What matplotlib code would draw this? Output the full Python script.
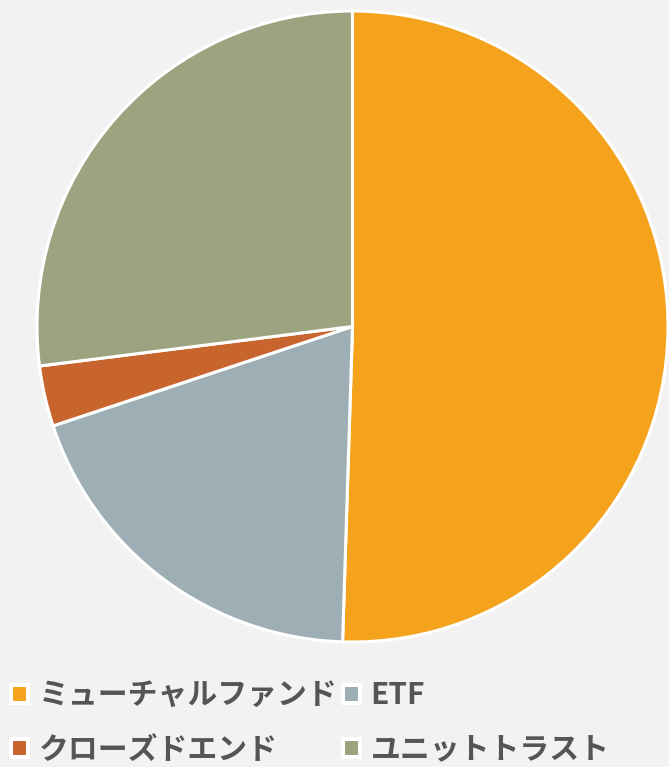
import matplotlib.pyplot as plt
from matplotlib.patches import Patch

plt.rcParams['font.family'] = ['Noto Sans CJK JP', 'DejaVu Sans']

# ファンドの種類別構成比 (%)
labels = ["ミューチャルファンド", "ETF", "クローズドエンド", "ユニットトラスト"]
values = [50.5, 19.4, 3.1, 27.0]
colors = ["#F5A31D", "#9DAFB5", "#C8642E", "#9CA37F"]

fig = plt.figure(figsize=(6.69, 7.67), dpi=100, facecolor="#F2F2F2")
ax = fig.add_axes([37 / 669, 125 / 767, 631 / 669, 631 / 767])
ax.set_facecolor("#F2F2F2")

ax.pie(values, colors=colors, startangle=90, counterclock=False, radius=1,
       wedgeprops=dict(edgecolor="white", linewidth=2.2))
ax.set_xlim(-1.0, 1.0)
ax.set_ylim(-1.0, 1.0)
ax.set_aspect("equal")
ax.axis("off")

# 凡例 (2列、列ごとに埋まるので順番を並べ替え)
order = [0, 2, 1, 3]
handles = [Patch(facecolor=colors[i], edgecolor="white", linewidth=2.9) for i in order]
leg = fig.legend(handles, [labels[i] for i in order], ncol=2,
                 loc="upper left", bbox_to_anchor=(11 / 669, 0.113),
                 frameon=False, borderpad=0, borderaxespad=0,
                 handlelength=0.57, handleheight=0.55,
                 handletextpad=0.35, columnspacing=0.2, labelspacing=0.82,
                 prop=dict(size=21.5, weight="bold"))
for t in leg.get_texts():
    t.set_color("#555555")

fig.savefig("out.png", dpi=100, facecolor=fig.get_facecolor())
